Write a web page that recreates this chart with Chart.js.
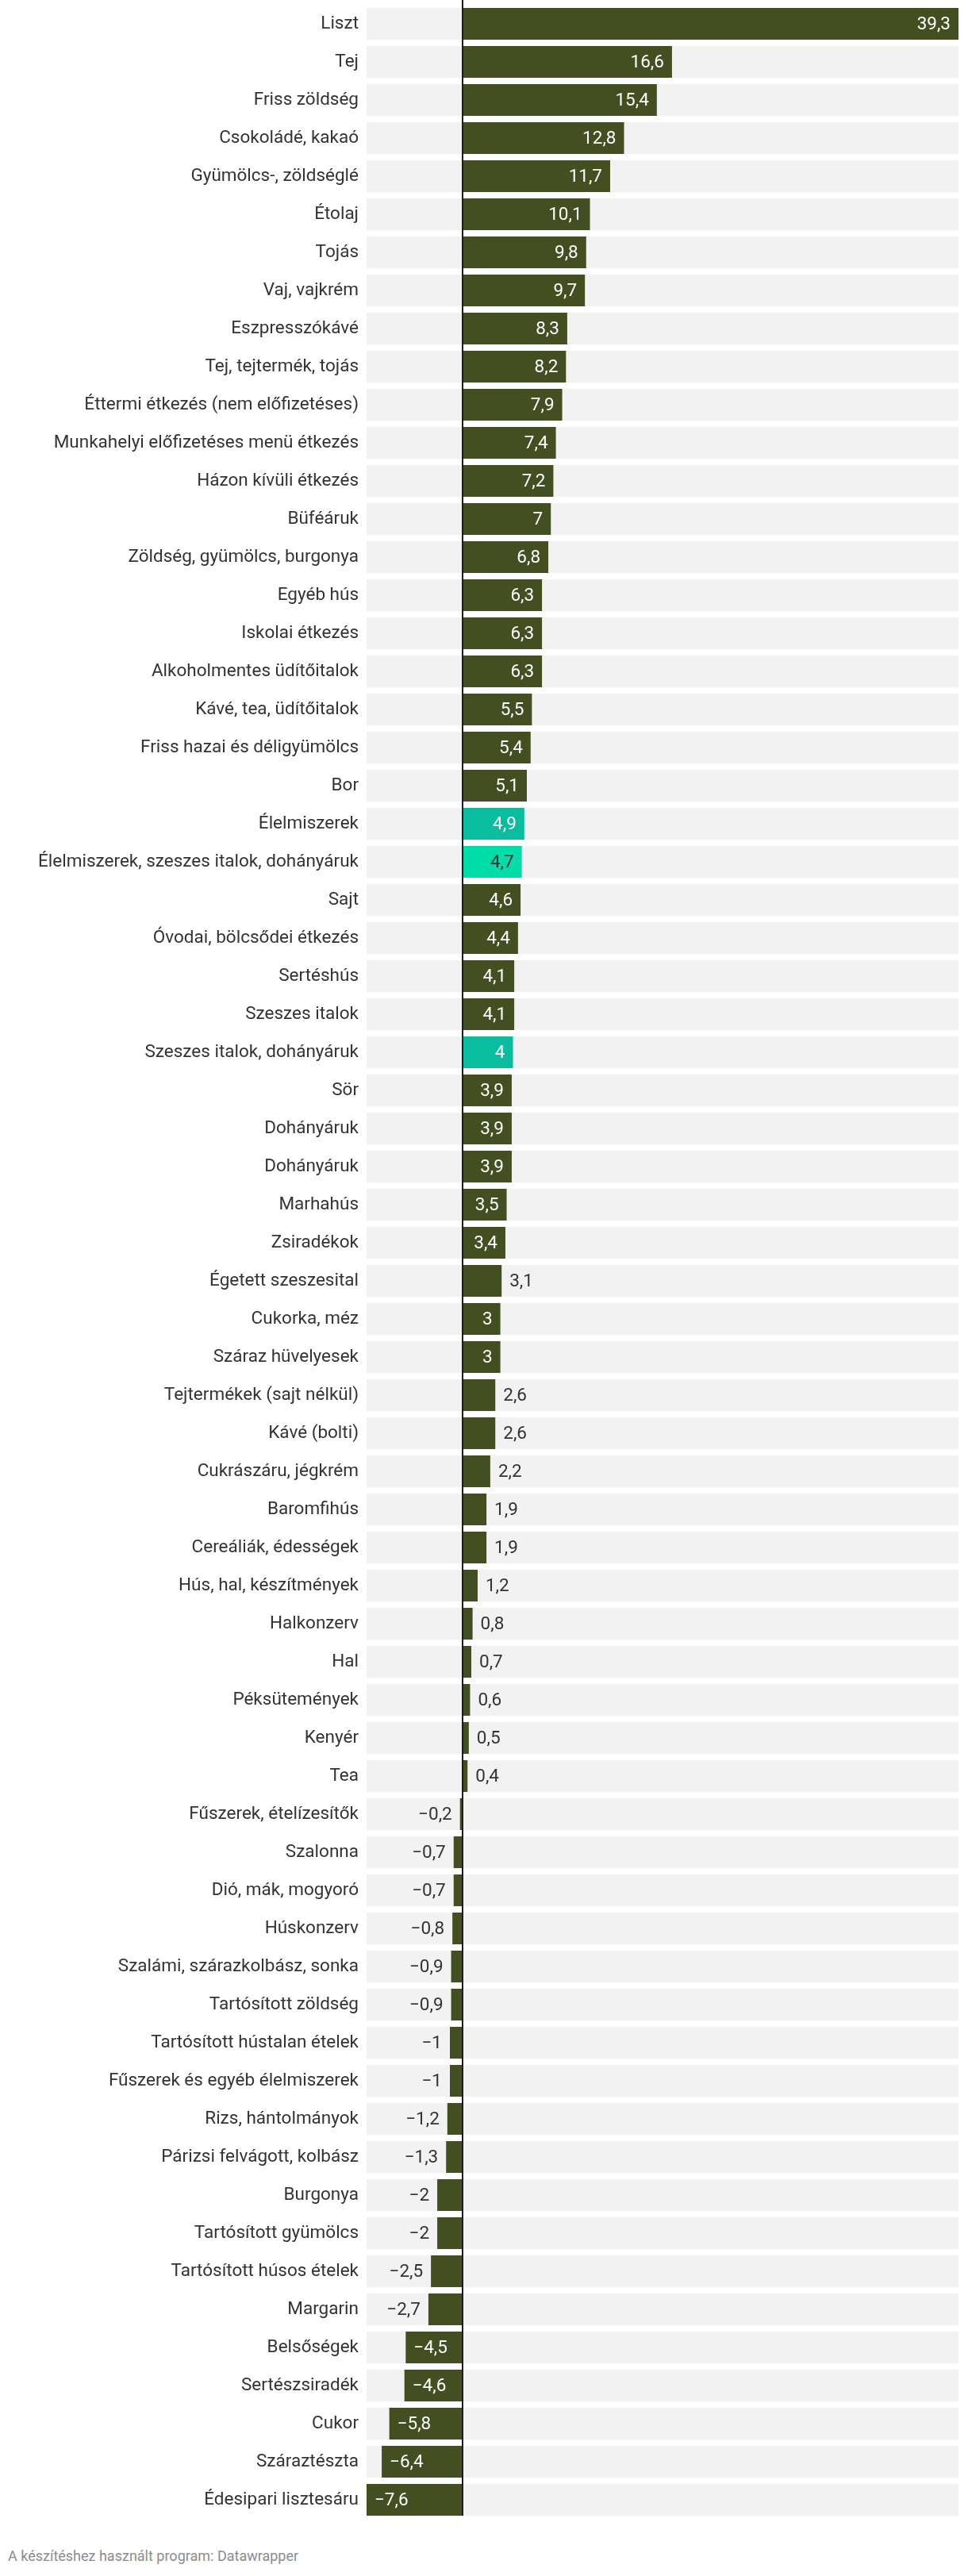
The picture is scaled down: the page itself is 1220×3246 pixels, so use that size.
<!DOCTYPE html>
<html>
<head>
<meta charset="utf-8">
<script src="https://cdn.jsdelivr.net/npm/chart.js@4/dist/chart.umd.min.js"></script>
<style>
  html, body { margin: 0; padding: 0; background: #fff; }
  #wrap { position: relative; width: 1220px; height: 3180px; }
  #footer { position: absolute; left: 10px; top: 3210px; font-family: Roboto, sans-serif; font-size: 18px; color: #8c8c8c; }
</style>
</head>
<body>
<div id="wrap"><canvas id="c"></canvas></div>
<div id="footer">A készítéshez használt program: Datawrapper</div>
<script>
const categories = [
  "Liszt","Tej","Friss zöldség","Csokoládé, kakaó","Gyümölcs-, zöldséglé","Étolaj","Tojás","Vaj, vajkrém",
  "Eszpresszókávé","Tej, tejtermék, tojás","Éttermi étkezés (nem előfizetéses)","Munkahelyi előfizetéses menü étkezés",
  "Házon kívüli étkezés","Büféáruk","Zöldség, gyümölcs, burgonya","Egyéb hús","Iskolai étkezés","Alkoholmentes üdítőitalok",
  "Kávé, tea, üdítőitalok","Friss hazai és déligyümölcs","Bor","Élelmiszerek","Élelmiszerek, szeszes italok, dohányáruk",
  "Sajt","Óvodai, bölcsődei étkezés","Sertéshús","Szeszes italok","Szeszes italok, dohányáruk","Sör","Dohányáruk","Dohányáruk",
  "Marhahús","Zsiradékok","Égetett szeszesital","Cukorka, méz","Száraz hüvelyesek","Tejtermékek (sajt nélkül)","Kávé (bolti)",
  "Cukrászáru, jégkrém","Baromfihús","Cereáliák, édességek","Hús, hal, készítmények","Halkonzerv","Hal","Péksütemények",
  "Kenyér","Tea","Fűszerek, ételízesítők","Szalonna","Dió, mák, mogyoró","Húskonzerv","Szalámi, szárazkolbász, sonka",
  "Tartósított zöldség","Tartósított hústalan ételek","Fűszerek és egyéb élelmiszerek","Rizs, hántolmányok",
  "Párizsi felvágott, kolbász","Burgonya","Tartósított gyümölcs","Tartósított húsos ételek","Margarin","Belsőségek",
  "Sertészsiradék","Cukor","Száraztészta","Édesipari lisztesáru"
];
const values = [
  39.3,16.6,15.4,12.8,11.7,10.1,9.8,9.7,8.3,8.2,7.9,7.4,7.2,7,6.8,6.3,6.3,6.3,5.5,5.4,5.1,4.9,4.7,4.6,4.4,4.1,4.1,4,
  3.9,3.9,3.9,3.5,3.4,3.1,3,3,2.6,2.6,2.2,1.9,1.9,1.2,0.8,0.7,0.6,0.5,0.4,-0.2,-0.7,-0.7,-0.8,-0.9,-0.9,-1,-1,-1.2,
  -1.3,-2,-2,-2.5,-2.7,-4.5,-4.6,-5.8,-6.4,-7.6
];
const highlightTeal = ["Élelmiszerek", "Szeszes italok, dohányáruk"];
const highlightBright = ["Élelmiszerek, szeszes italok, dohányáruk"];
const axisMin = -7.6, axisMax = 39.3;

const OLIVE = "#434f20", TEAL = "#0bbd9f", BRIGHT = "#00dcaa", BG = "#f2f2f2";
const colors = categories.map(c => highlightBright.includes(c) ? BRIGHT : (highlightTeal.includes(c) ? TEAL : OLIVE));

function fmt(v) {
  const s = String(Math.abs(v)).replace(".", ",");
  return (v < 0 ? "\u2212" : "") + s;
}

const FONT = "Roboto, sans-serif";

const labelPlugin = {
  id: "labels",
  afterDatasetsDraw(chart) {
    const ctx = chart.ctx;
    const x = chart.scales.x;
    const meta = chart.getDatasetMeta(1);
    const zero = x.getPixelForValue(0);
    ctx.save();
    ctx.fillStyle = "#1d1d1d";
    ctx.fillRect(Math.round(zero) - 1, 0, 2, chart.chartArea.bottom - 4);
    ctx.font = "22.5px " + FONT;
    ctx.textBaseline = "middle";
    meta.data.forEach((bar, i) => {
      const v = values[i];
      const txt = fmt(v);
      const w = ctx.measureText(txt).width;
      const bw = Math.abs(bar.x - zero);
      const inside = w + 24 < bw;
      const y = bar.y + 1;
      if (v >= 0) {
        if (inside) {
          ctx.textAlign = "right";
          ctx.fillStyle = colors[i] === BRIGHT ? "#333333" : "#ffffff";
          ctx.fillText(txt, bar.x - 10, y);
        } else {
          ctx.textAlign = "left";
          ctx.fillStyle = "#333333";
          ctx.fillText(txt, Math.max(bar.x, zero + 1) + 10, y);
        }
      } else {
        if (inside) {
          ctx.textAlign = "left";
          ctx.fillStyle = "#ffffff";
          ctx.fillText(txt, bar.x + 10, y);
        } else {
          ctx.textAlign = "right";
          ctx.fillStyle = "#333333";
          ctx.fillText(txt, Math.min(bar.x, zero - 1) - 10, y);
        }
      }
    });
    ctx.restore();
  }
};

new Chart(document.getElementById("c"), {
  type: "bar",
  data: {
    labels: categories,
    datasets: [
      {
        data: categories.map(() => [axisMin, axisMax]),
        backgroundColor: BG,
        grouped: false,
        order: 2,
        barPercentage: 40 / 48,
        categoryPercentage: 1
      },
      {
        data: values,
        backgroundColor: colors,
        grouped: false,
        order: 1,
        barPercentage: 40 / 48,
        categoryPercentage: 1
      }
    ]
  },
  options: {
    indexAxis: "y",
    responsive: true,
    maintainAspectRatio: false,
    animation: false,
    events: [],
    layout: { padding: { top: 6, bottom: 6, left: 0, right: 12 } },
    plugins: { legend: { display: false }, tooltip: { enabled: false } },
    scales: {
      x: {
        display: false,
        min: axisMin,
        max: axisMax
      },
      y: {
        grid: { display: false, drawTicks: false },
        border: { display: false },
        ticks: {
          color: "#333333",
          font: { family: FONT, size: 22.5 },
          padding: 10,
          autoSkip: false
        },
        afterFit(scale) {
          scale.width = 462;
          scale.paddingTop = 0;
          scale.paddingBottom = 0;
        }
      }
    }
  },
  plugins: [labelPlugin]
});
</script>
</body>
</html>
